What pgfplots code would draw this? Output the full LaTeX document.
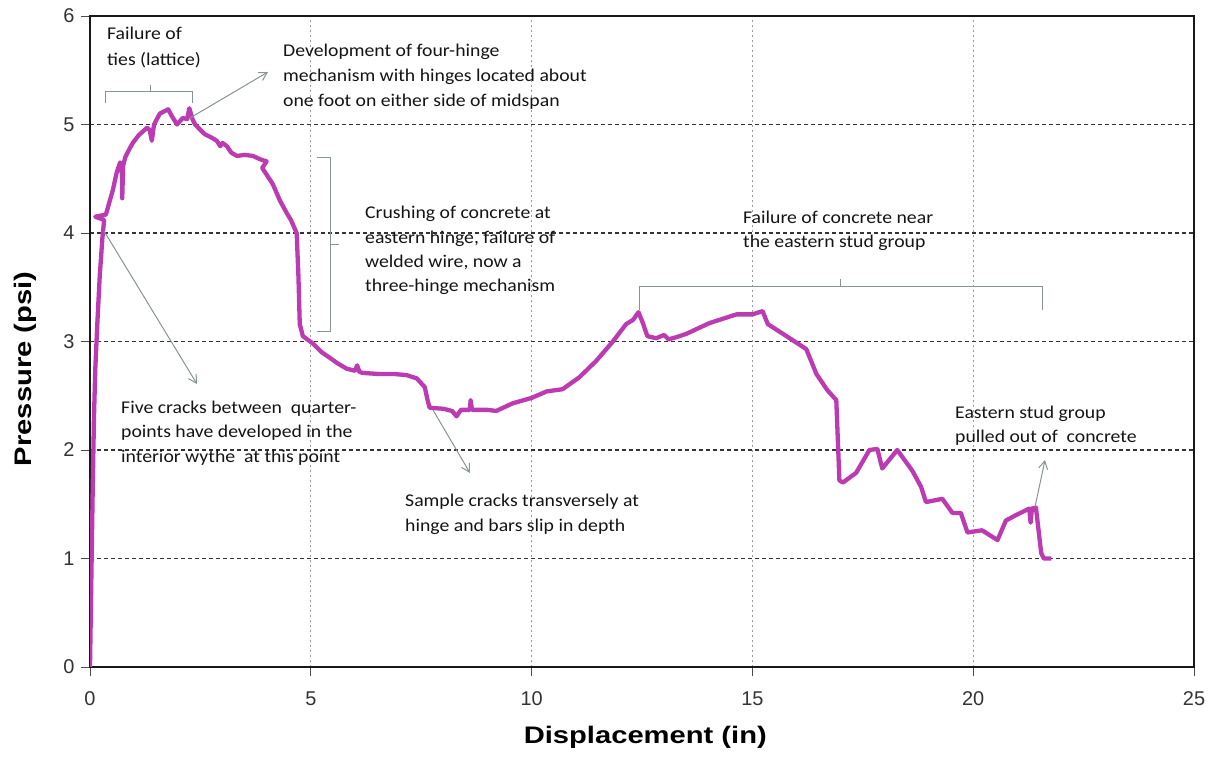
\documentclass[border=0pt]{standalone}
\usepackage{pgfplots}
\pgfplotsset{compat=1.18}
\usepackage{fontspec}
\usepackage{graphicx}
\usetikzlibrary{arrows.meta}
\setmainfont{Carlito}
\newfontfamily\lsans{Liberation Sans}
\definecolor{curve}{RGB}{188,58,178}
\definecolor{anno}{RGB}{135,148,148}
\definecolor{txt}{RGB}{20,20,20}
\newcommand{\ann}[1]{\scalebox{1.1}[1]{#1}}
\begin{document}
\begin{tikzpicture}
\path[use as bounding box] (0,0) rectangle (1216bp,758bp);
\begin{axis}[
  at={(90bp,91bp)}, anchor=south west, scale only axis,
  width=1104bp, height=651bp,
  xmin=0, xmax=25, ymin=0, ymax=6,
  xtick={0,5,10,15,20,25}, ytick={0,1,2,3,4,5,6},
  xtick pos=bottom, ytick pos=left, tick align=outside,
  major tick length=9bp,
  tick style={black!70, line width=0.8bp},
  axis line style={black!90, line width=1.8bp},
  grid=major,
  x grid style={black!40, dash pattern=on 2bp off 3bp, line width=0.7bp},
  y grid style={black!80, dash pattern=on 4bp off 3bp, line width=1.2bp},
  tick label style={font=\lsans\fontsize{20}{20}\selectfont, text=black!80},
  xticklabel style={yshift=-12bp},
  yticklabel style={xshift=-3bp},
  /pgf/number format/assume math mode=true,
  xlabel={\scalebox{1.22}[1]{Displacement (in)}},
  ylabel={\scalebox{1.22}[1]{Pressure (psi)}},
  label style={font=\lsans\bfseries\fontsize{24}{24}\selectfont, text=black},
  xlabel style={at={(axis description cs:0.503,-0.1075)}, anchor=center},
  ylabel style={at={(axis description cs:-0.059,0.458)}, anchor=center, rotate=0},
]
\addplot[curve, line width=4.3bp, line join=round] coordinates {
(0,0) (0.03,0.8) (0.06,1.6) (0.09,2.3) (0.12,2.75) (0.17,3.2) (0.22,3.6)
(0.28,3.95) (0.32,4.12) (0.12,4.15) (0.36,4.17) (0.45,4.3) (0.52,4.4)
(0.6,4.55) (0.68,4.65) (0.72,4.62) (0.73,4.32) (0.75,4.62) (0.8,4.7)
(0.9,4.78) (0.97,4.83) (1.1,4.9) (1.29,4.97) (1.35,4.95) (1.4,4.85)
(1.45,5.0) (1.58,5.1) (1.77,5.14) (1.85,5.08) (1.97,5.0) (2.1,5.06)
(2.2,5.05) (2.25,5.15) (2.32,5.05) (2.38,5.0) (2.5,4.95) (2.6,4.91)
(2.75,4.88) (2.87,4.85) (2.95,4.8) (3.0,4.83) (3.1,4.8) (3.2,4.74)
(3.33,4.71) (3.5,4.72) (3.69,4.71) (3.85,4.68) (4.0,4.66) (3.9,4.6)
(4.14,4.45) (4.3,4.3) (4.46,4.18) (4.55,4.12) (4.68,4.0) (4.72,3.6)
(4.75,3.16) (4.82,3.05) (5.05,2.98) (5.25,2.9) (5.43,2.85) (5.6,2.8)
(5.81,2.75) (6.0,2.73) (6.05,2.78) (6.1,2.72) (6.18,2.71) (6.56,2.7)
(6.9,2.7) (7.17,2.69) (7.4,2.66)
(7.58,2.58) (7.65,2.45) (7.69,2.39) (8.0,2.38) (8.2,2.36) (8.3,2.31)
(8.4,2.37) (8.6,2.37) (8.62,2.46) (8.65,2.37) (9.0,2.37) (9.2,2.36)
(9.57,2.43) (10.0,2.48) (10.34,2.54) (10.7,2.56) (11.08,2.67)
(11.46,2.82) (11.84,3.0) (12.14,3.16) (12.3,3.2) (12.42,3.27)
(12.52,3.17) (12.62,3.05) (12.82,3.03) (13.0,3.06) (13.1,3.02) (13.28,3.04) (13.5,3.07)
(14.03,3.17) (14.64,3.25) (15.0,3.25) (15.23,3.28) (15.35,3.16)
(15.77,3.05) (16.22,2.93) (16.45,2.7) (16.7,2.55) (16.9,2.46)
(16.97,1.72) (17.05,1.70) (17.35,1.79) (17.65,2.0) (17.83,2.01)
(17.94,1.83) (18.28,2.0) (18.62,1.81) (18.82,1.66) (18.93,1.52)
(19.3,1.55) (19.53,1.42) (19.72,1.42) (19.87,1.24) (20.2,1.26)
(20.55,1.17) (20.74,1.35) (20.97,1.4) (21.27,1.46) (21.3,1.33)
(21.33,1.46) (21.42,1.47) (21.54,1.05) (21.6,1.0) (21.77,1.0)
};
\end{axis}
\begin{scope}[x=1bp, y=-1bp, yshift=758bp]
  % brackets
  \draw[anno, line width=1bp] (105,103) -- (105,92) -- (192,92) -- (192,103);
  \draw[anno, line width=1bp] (150,92) -- (150,85);
  \draw[anno, line width=1bp] (317,158) -- (330,158) -- (330,332) -- (317,332);
  \draw[anno, line width=1bp] (330,245) -- (339,245);
  \draw[anno, line width=1bp] (639,310) -- (639,287) -- (1042,287) -- (1042,310);
  \draw[anno, line width=1bp] (840,287) -- (840,279);
  % arrows
  \draw[anno, line width=1bp, -{Straight Barb[length=8bp,width=9bp]}] (190,118) -- (268,72);
  \draw[anno, line width=1bp, -{Straight Barb[length=8bp,width=9bp]}] (104,231) -- (197,384);
  \draw[anno, line width=1bp, -{Straight Barb[length=8bp,width=9bp]}] (433,410) -- (470,473);
  \draw[anno, line width=1bp, -{Straight Barb[length=8bp,width=9bp]}] (1035,507) -- (1045,460);
  % texts
  \tikzset{t/.style={anchor=base west, inner sep=0pt, text=txt, font=\fontsize{18}{18}\selectfont}}
  \node[t] at (107,40) {\ann{Failure of}};
  \node[t] at (107,66) {\ann{ties (lattice)}};
  \node[t] at (283,57) {\ann{Development of four-hinge}};
  \node[t] at (283,82) {\ann{mechanism with hinges located about}};
  \node[t] at (283,107) {\ann{one foot on either side of midspan}};
  \node[t] at (365,219) {\ann{Crushing of concrete at}};
  \node[t] at (365,244) {\ann{eastern hinge, failure of}};
  \node[t] at (365,268) {\ann{welded wire, now a}};
  \node[t] at (365,292) {\ann{three-hinge mechanism}};
  \node[t] at (743,224) {\ann{Failure of concrete near}};
  \node[t] at (743,248) {\ann{the eastern stud group}};
  \node[t] at (121,414) {\ann{Five cracks between\ \ quarter-}};
  \node[t] at (121,438) {\ann{points have developed in the}};
  \node[t] at (121,463) {\ann{interior wythe\ \ at this point}};
  \node[t] at (405,507) {\ann{Sample cracks transversely at}};
  \node[t] at (405,532) {\ann{hinge and bars slip in depth}};
  \node[t] at (955,419) {\ann{Eastern stud group}};
  \node[t] at (955,443) {\ann{pulled out of\ \ concrete}};
\end{scope}
\end{tikzpicture}
\end{document}
